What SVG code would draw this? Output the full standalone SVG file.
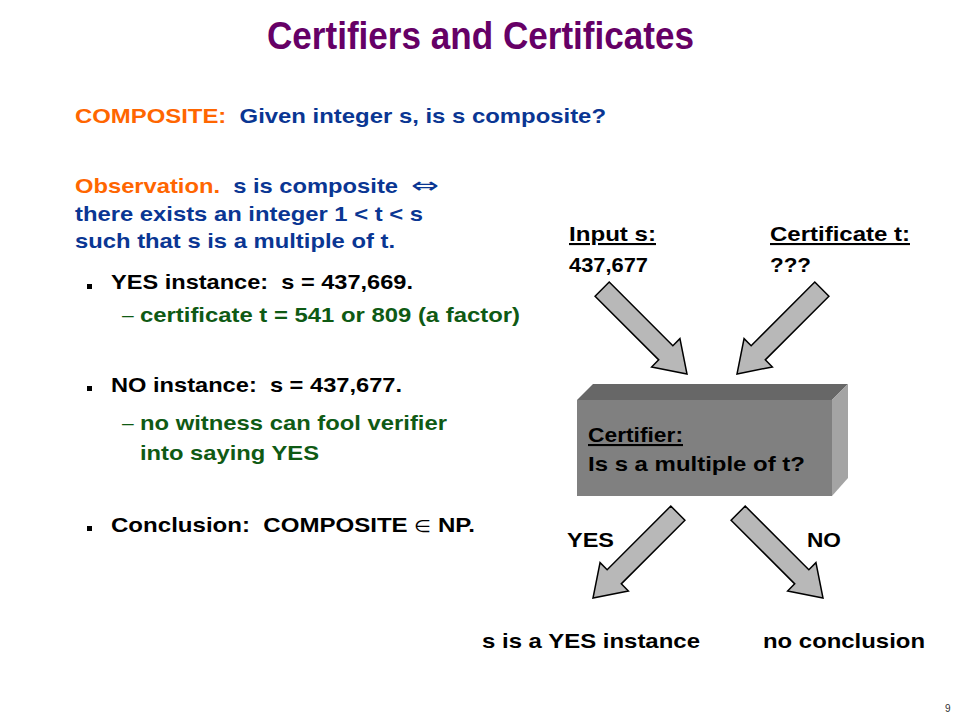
<svg xmlns="http://www.w3.org/2000/svg" width="960" height="720" viewBox="0 0 960 720">
  <style>
    text { font-family: "Liberation Sans", Arial, sans-serif; font-weight: bold; font-size: 21px; }
    .title { font-size: 39px; fill: #660066; }
    .org { fill: #ff6600; }
    .blu { fill: #0a3693; }
    .grn { fill: #0f5a14; }
    .blk { fill: #000000; }
    .u { text-decoration: underline; }
    .arrow { fill: #b8b8b8; stroke: #000000; stroke-width: 1.5; stroke-linejoin: miter; }
    .bullet { fill: #000000; }
  </style>
  <defs>
    <polygon id="arr" class="arrow" points="-120,-10 -30,-10 -30,-20 0,0 -30,20 -30,10 -120,10"/>
  </defs>
  <rect width="960" height="720" fill="#ffffff"/>

  <text class="title" x="267" y="49" textLength="427" lengthAdjust="spacingAndGlyphs">Certifiers and Certificates</text>

  <g id="problem">
    <text x="75" y="123" textLength="531" lengthAdjust="spacingAndGlyphs" xml:space="preserve"><tspan class="org">COMPOSITE:  </tspan><tspan class="blu">Given integer s, is s composite?</tspan></text>
  </g>

  <g id="observation">
    <text x="75" y="193" textLength="323" lengthAdjust="spacingAndGlyphs" xml:space="preserve"><tspan class="org">Observation.  </tspan><tspan class="blu">s is composite</tspan></text>
    <text class="blu" x="411" y="193" style="font-family:'DejaVu Sans',sans-serif;font-weight:normal;font-size:22px" textLength="28" lengthAdjust="spacingAndGlyphs">⇔</text>
    <text class="blu" x="75" y="221" textLength="348" lengthAdjust="spacingAndGlyphs">there exists an integer 1 &lt; t &lt; s</text>
    <text class="blu" x="75" y="248" textLength="320" lengthAdjust="spacingAndGlyphs">such that s is a multiple of t.</text>
  </g>

  <g id="bullets">
    <rect class="bullet" x="87" y="284" width="5" height="5"/>
    <text class="blk" x="111" y="289" textLength="302" lengthAdjust="spacingAndGlyphs" xml:space="preserve">YES instance:  s = 437,669.</text>
    <text class="grn" x="122" y="322" style="font-weight:normal">–</text>
    <text class="grn" x="140" y="322" textLength="380" lengthAdjust="spacingAndGlyphs">certificate t = 541 or 809 (a factor)</text>

    <rect class="bullet" x="87" y="386" width="5" height="5"/>
    <text class="blk" x="111" y="392" textLength="291" lengthAdjust="spacingAndGlyphs" xml:space="preserve">NO instance:  s = 437,677.</text>
    <text class="grn" x="122" y="430" style="font-weight:normal">–</text>
    <text class="grn" x="140" y="430" textLength="307" lengthAdjust="spacingAndGlyphs">no witness can fool verifier</text>
    <text class="grn" x="140" y="460" textLength="179" lengthAdjust="spacingAndGlyphs">into saying YES</text>

    <rect class="bullet" x="87" y="526" width="5" height="5"/>
    <text class="blk" x="111" y="532" textLength="364" lengthAdjust="spacingAndGlyphs" xml:space="preserve">Conclusion:  COMPOSITE <tspan style="font-weight:normal;font-family:'DejaVu Sans',sans-serif;font-size:17px">∈</tspan> NP.</text>
  </g>

  <g id="input">
    <text class="blk u" x="569" y="241" textLength="87" lengthAdjust="spacingAndGlyphs">Input s:</text>
    <text class="blk" x="569" y="272" textLength="79" lengthAdjust="spacingAndGlyphs">437,677</text>
  </g>

  <g id="certificate">
    <text class="blk u" x="770" y="241" textLength="140" lengthAdjust="spacingAndGlyphs">Certificate t:</text>
    <text class="blk" x="770" y="272" textLength="41" lengthAdjust="spacingAndGlyphs">???</text>
  </g>

  <g id="certifier">
    <polygon points="577,400 593,384 848,384 832,400" fill="#676767"/>
    <polygon points="832,400 848,384 848,478 832,496" fill="#a4a4a4"/>
    <rect x="577" y="400" width="255" height="96" fill="#808080"/>
    <text class="blk u" x="588" y="442" textLength="95" lengthAdjust="spacingAndGlyphs">Certifier:</text>
    <text class="blk" x="588" y="471" textLength="217" lengthAdjust="spacingAndGlyphs">Is s a multiple of t?</text>
  </g>

  <g id="connectors">
    <use href="#arr" transform="translate(687,374) rotate(45)"/>
    <use href="#arr" transform="translate(737,374) rotate(135)"/>
    <use href="#arr" transform="translate(593,598) rotate(135)"/>
    <use href="#arr" transform="translate(823,598) rotate(45)"/>
    <text class="blk" x="567" y="547" textLength="47" lengthAdjust="spacingAndGlyphs">YES</text>
    <text class="blk" x="807" y="547" textLength="34" lengthAdjust="spacingAndGlyphs">NO</text>
  </g>

  <g id="yes-result">
    <text class="blk" x="482" y="648" textLength="218" lengthAdjust="spacingAndGlyphs">s is a YES instance</text>
  </g>

  <g id="no-result">
    <text class="blk" x="763" y="648" textLength="162" lengthAdjust="spacingAndGlyphs">no conclusion</text>
  </g>

  <text x="945" y="712" style="font-weight:normal;font-size:10px" fill="#333333">9</text>
</svg>
